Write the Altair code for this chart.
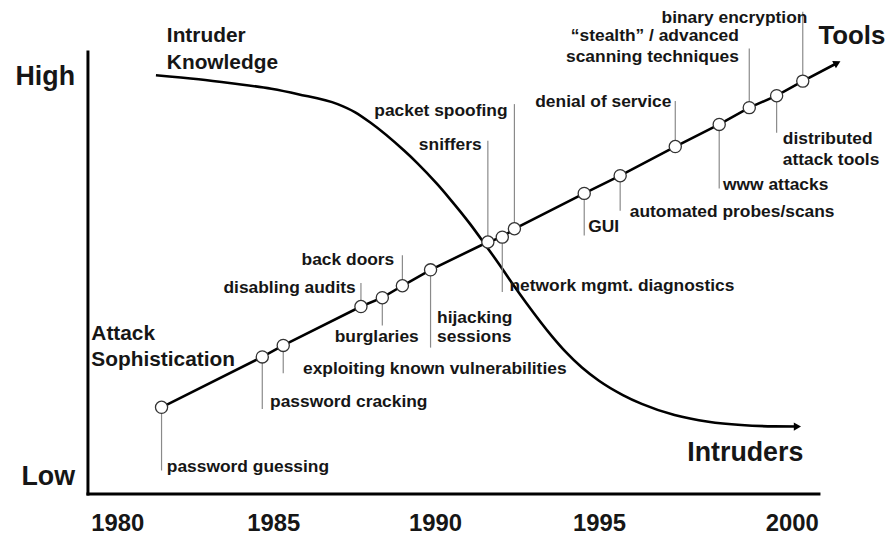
import altair as alt
import pandas as pd

# ---- Tools line: events along the "Attack Sophistication" line ----
tool_names = ["password guessing", "password cracking", "exploiting known vulnerabilities",
              "disabling audits", "burglaries", "back doors", "hijacking sessions", "sniffers",
              "network mgmt. diagnostics", "packet spoofing", "GUI", "automated probes/scans",
              "denial of service", "www attacks", "stealth / advanced scanning techniques",
              "distributed attack tools", "binary encryption"]
tool_year = [1981.42, 1984.65, 1985.31, 1987.71, 1988.37, 1988.99, 1989.86, 1991.61,
             1992.05, 1992.42, 1994.55, 1995.55, 1996.98, 1998.12, 1998.90, 1999.61, 2000.29]
tool_level = [19.5, 30.9, 33.5, 42.3, 44.3, 47.0, 50.6, 56.9,
              58.0, 59.9, 67.9, 71.9, 78.5, 83.5, 87.3, 90.0, 93.3]
leader_end = [5.2, 19.1, 27.2, 47.6, 38.0, 53.9, 33.0, 79.8,
              45.6, 88.1, 58.4, 64.0, 88.8, 69.0, 100.7, 81.6, 109.0]
tools_arrow_year = [2001.19]
tools_arrow_level = [97.4]

# ---- Intruder Knowledge curve ----
knowledge_year = [1981.24, 1982.61, 1983.66, 1984.94, 1985.77, 1986.99, 1987.52, 1988.01,
                  1989.05, 1989.45, 1990.06, 1990.45, 1991.06, 1991.48, 1992.06, 1992.39,
                  1992.76, 1993.58, 1994.00, 1994.48, 1995.00, 1995.62, 1996.11, 1996.96,
                  1997.84, 1998.69, 1999.54, 2000.15]
knowledge_level = [94.61, 93.71, 92.81, 91.57, 90.34, 88.09, 86.29, 83.87,
                   77.53, 74.76, 70.04, 66.67, 61.06, 56.81, 50.74, 47.15,
                   43.33, 35.44, 31.91, 28.49, 25.51, 22.27, 20.27, 17.75,
                   16.22, 15.48, 15.19, 15.15]

# ---- annotation texts (anchor in data units) ----
left_text = ["password guessing", "password cracking", "exploiting known vulnerabilities",
             "burglaries", "hijacking", "sessions", "network mgmt. diagnostics", "GUI",
             "automated probes/scans", "www attacks", "distributed", "attack tools"]
left_year = [1981.59, 1984.90, 1985.92, 1986.90, 1990.06, 1990.06, 1992.27, 1994.67,
             1995.80, 1998.22, 1999.77, 1999.77]
left_level = [6.1, 20.7, 28.1, 35.3, 39.8, 35.3, 47.0, 60.2, 63.6, 69.7, 80.2, 75.5]

right_text = ["disabling audits", "back doors", "sniffers", "packet spoofing",
              "denial of service", "\u201cstealth\u201d / advanced", "scanning techniques",
              "binary encryption"]
right_year = [1987.55, 1988.74, 1991.42, 1992.21, 1996.88, 1998.63, 1998.63, 2000.41]
right_level = [46.5, 52.8, 78.9, 86.5, 88.5, 103.6, 98.7, 107.6]

series_text = ["Intruder", "Knowledge", "Attack", "Sophistication"]
series_year = [1981.59, 1981.59, 1979.13, 1979.13]
series_level = [103.4, 97.3, 36.0, 30.3]

end_text = ["Tools", "Intruders"]
end_year = [2000.70, 1997.29]
end_level = [103.4, 9.2]

year_ticks = [1980, 1985, 1990, 1995, 2000]
level_ticks = [3.8, 94.4]
level_names = ["Low", "High"]

FONT = "Liberation Sans"
INK = "#161616"

tools = pd.DataFrame({"name": tool_names, "year": tool_year, "level": tool_level, "end": leader_end})
tools_line = pd.DataFrame({"year": tool_year + tools_arrow_year, "level": tool_level + tools_arrow_level})
tools_arrow = pd.DataFrame({"year": tools_arrow_year, "level": tools_arrow_level})
know = pd.DataFrame({"year": knowledge_year, "level": knowledge_level})
know_arrow = know.tail(1)
left_df = pd.DataFrame({"t": left_text, "year": left_year, "level": left_level})
right_df = pd.DataFrame({"t": right_text, "year": right_year, "level": right_level})
series_df = pd.DataFrame({"t": series_text, "year": series_year, "level": series_level})
end_df = pd.DataFrame({"t": end_text, "year": end_year, "level": end_level})

label_expr = "datum.value > 50 ? '%s' : '%s'" % (level_names[1], level_names[0])

x_scale = alt.Scale(domain=[1979, 1980, 1985, 1990, 1995, 2000, 2000.7],
                    range=[0, 30, 187, 350, 515, 709, 736], nice=False, zero=False)
y_scale = alt.Scale(domain=[0, 100], nice=False, zero=False)

x_axis = alt.Axis(values=year_ticks, title=None, grid=False, ticks=False, tickSize=0,
                  labelFont=FONT, labelFontSize=24, labelFontWeight="bold", labelColor=INK,
                  labelPadding=37, labelBaseline="alphabetic", labelFlush=False, labelOverlap=False,
                  domainColor="black", domainWidth=3, domainCap="square", format="d")
y_axis = alt.Axis(values=level_ticks, title=None, grid=False, ticks=False, tickSize=0,
                  labelExpr=label_expr, labelFont=FONT, labelFontSize=27, labelFontWeight="bold",
                  labelColor=INK, labelPadding=13, labelBaseline="middle", labelFlush=False,
                  labelOverlap=False, domainColor="black", domainWidth=3, domainCap="square")

X = alt.X("year:Q", scale=x_scale, axis=x_axis)
Y = alt.Y("level:Q", scale=y_scale, axis=y_axis)

leaders = alt.Chart(tools).mark_rule(color="#8a8a8a", strokeWidth=1.2).encode(
    x=X, y=Y, y2="end:Q")

tools_path = alt.Chart(tools_line).mark_line(color="black", strokeWidth=2.6).encode(
    x=X, y=Y, order="year:Q")

know_path = alt.Chart(know).mark_line(color="black", strokeWidth=2.6, interpolate="monotone").encode(
    x=X, y=Y, order="year:Q")

circles = alt.Chart(tools).mark_point(shape="circle", filled=True, color="white", stroke="#333333",
                                      strokeWidth=1.3, size=150, opacity=1).encode(x=X, y=Y)

arrow_tools = alt.Chart(tools_arrow).mark_point(shape="triangle-right", filled=True, color="black",
                                                size=70, angle=333, opacity=1).encode(x=X, y=Y)
arrow_know = alt.Chart(know_arrow).mark_point(shape="triangle-right", filled=True, color="black",
                                              size=70, opacity=1).encode(x=X, y=Y)

left_lbl = alt.Chart(left_df).mark_text(align="left", baseline="middle", font=FONT, fontSize=17.5,
                                        fontWeight="bold", color=INK).encode(x=X, y=Y, text="t:N")
right_lbl = alt.Chart(right_df).mark_text(align="right", baseline="middle", font=FONT, fontSize=17.5,
                                          fontWeight="bold", color=INK).encode(x=X, y=Y, text="t:N")
series_lbl = alt.Chart(series_df).mark_text(align="left", baseline="middle", font=FONT, fontSize=21,
                                            fontWeight="bold", color=INK).encode(x=X, y=Y, text="t:N")
end_tools = alt.Chart(end_df.head(1)).mark_text(align="left", baseline="middle", font=FONT, fontSize=26,
                                                fontWeight="bold", color=INK).encode(x=X, y=Y, text="t:N")
end_intr = alt.Chart(end_df.tail(1)).mark_text(align="left", baseline="middle", font=FONT, fontSize=27,
                                               fontWeight="bold", color=INK).encode(x=X, y=Y, text="t:N")

chart = alt.layer(
    know_path, leaders, tools_path, circles, arrow_tools, arrow_know,
    left_lbl, right_lbl, series_lbl, end_tools, end_intr
).properties(
    width=736, height=445,
    autosize=alt.AutoSizeParams(type="none"),
    padding={"left": 80, "top": 42, "right": 70, "bottom": 43},
    background="white"
).configure_view(stroke=None)

chart.save("out.html", embed_options={"renderer": "svg", "actions": False})
